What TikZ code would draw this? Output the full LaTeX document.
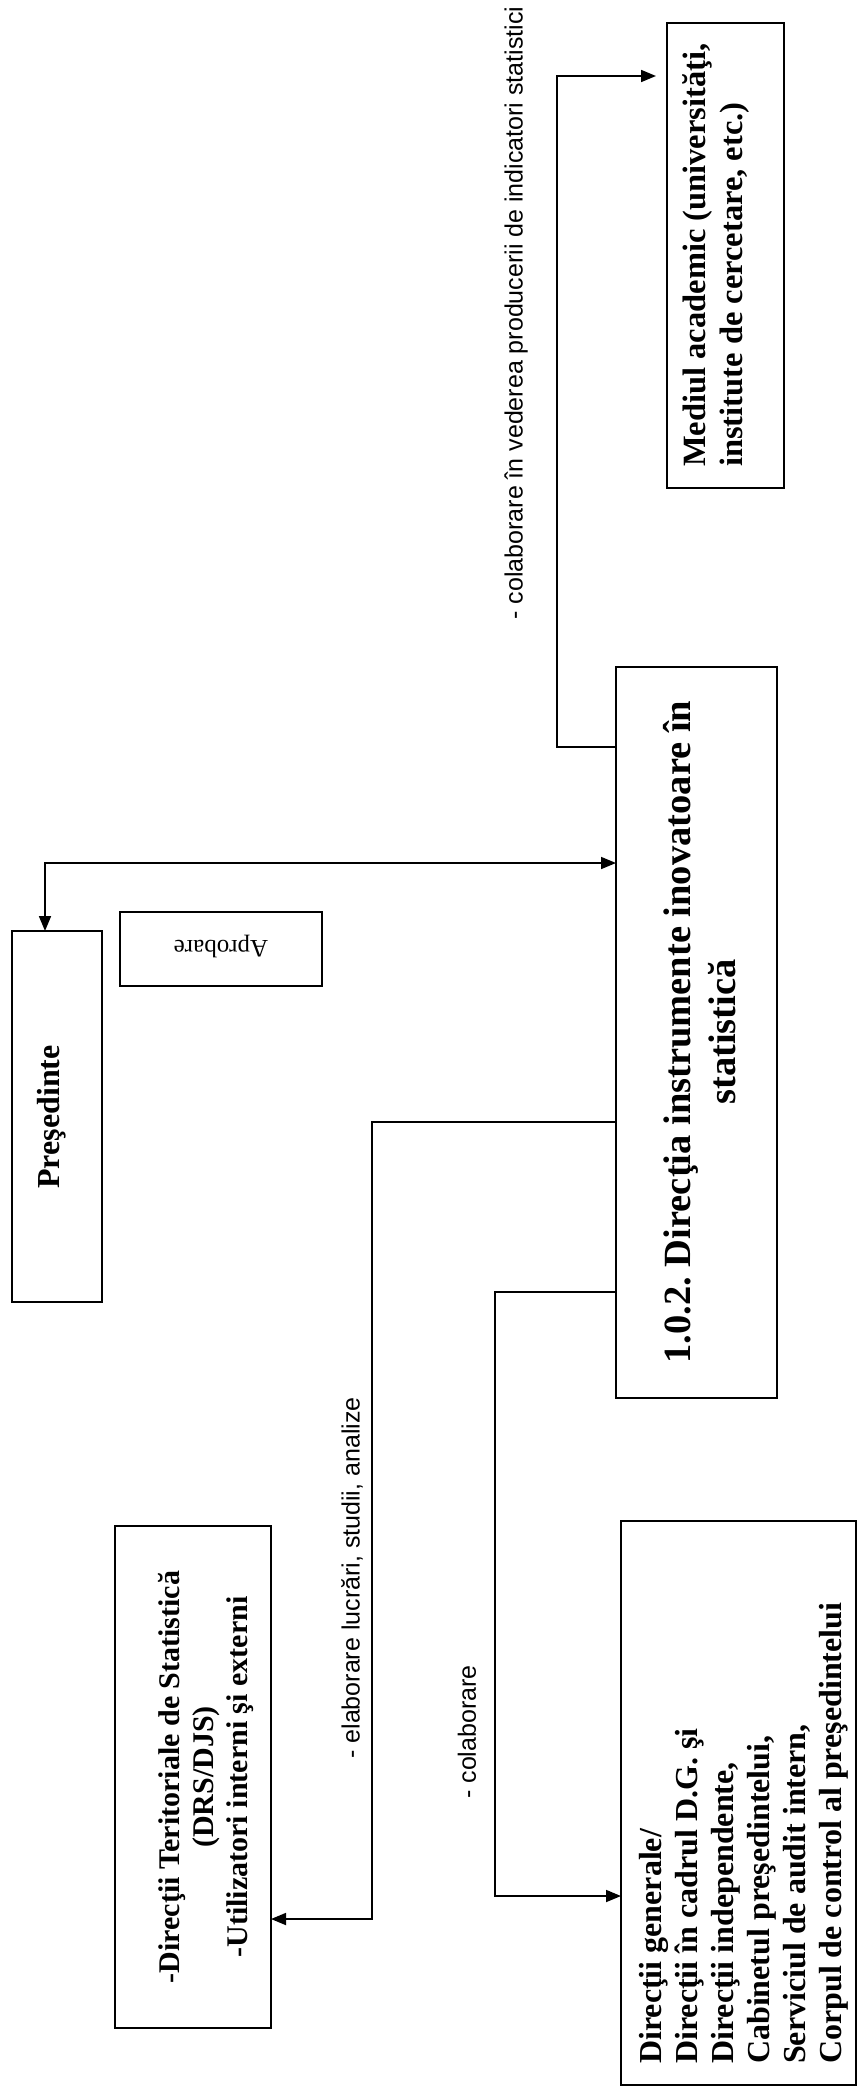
\documentclass[tikz,border=0pt]{standalone}
\usepackage{fontspec}
\setmainfont{Liberation Serif}
\newfontfamily\lsans{Liberation Sans}
\usetikzlibrary{arrows.meta}
\frenchspacing
\begin{document}
\begin{tikzpicture}[x=1pt,y=-1pt,
  box/.style={draw, line width=2pt, inner sep=0pt, outer sep=0pt, anchor=north west},
  conn/.style={line width=1.7pt},
  arr/.style={conn, -{Triangle[length=15pt,width=12pt]}},
  both/.style={conn, {Triangle[length=15pt,width=12pt]}-{Triangle[length=15pt,width=12pt]}},
  rtext/.style={rotate=90, inner sep=0pt},
  lbl/.style={rotate=90, inner sep=0pt, font=\lsans\fontsize{25}{30}\selectfont},
]
\fill[white] (0,0) rectangle (857,2087);
\useasboundingbox (0,0) rectangle (857,2087);

% boxes
\node[box, minimum width=117pt, minimum height=465pt] (mediul) at (667,23) {};
\node[box, minimum width=161pt, minimum height=731pt] (dir) at (616,667) {};
\node[box, minimum width=90pt, minimum height=371pt] (pres) at (12,931) {};
\node[box, minimum width=202pt, minimum height=74pt] (aprob) at (120,912) {};
\node[box, minimum width=156pt, minimum height=502pt] (drs) at (115,1526) {};
\node[box, minimum width=235pt, minimum height=564pt] (dg) at (621,1521) {};

% box texts
\node[rtext, anchor=west, align=left, font=\bfseries\fontsize{32.5}{37}\selectfont] (mediulT) at (716,467)
  {Mediul academic (universităţi,\\institute de cercetare, etc.)};
\node[rtext, align=center, font=\bfseries\fontsize{38.5}{45}\selectfont] (dirT) at (700,1032)
  {1.0.2. Direcţia instrumente inovatoare în\\statistică};
\node[rtext, font=\bfseries\fontsize{32}{38}\selectfont] (presT) at (52,1117) {Preşedinte};
\node[inner sep=0pt, rotate=180, font=\fontsize{25}{30}\selectfont] (aprobT) at (221,947) {Aprobare};
\node[rtext, align=center, font=\bfseries\fontsize{30}{34}\selectfont] (drsT) at (206,1777)
  {-Direcţii Teritoriale de Statistică\\(DRS/DJS)\\-Utilizatori interni şi externi};
\node[rtext, anchor=west, align=left, font=\bfseries\fontsize{32}{36}\selectfont] (dgT) at (744,2064)
  {Direcţii generale/\\Direcţii în cadrul D.G. şi\\Direcţii independente,\\Cabinetul preşedintelui,\\Serviciul de audit intern,\\Corpul de control al preşedintelui};

% connector labels
\node[lbl] (l1) at (516,313) {- colaborare în vederea producerii de indicatori statistici};
\node[lbl] (l2) at (352,1578) {- elaborare lucrări, studii, analize};
\node[lbl] (l3) at (467,1732) {- colaborare};

% connectors
\draw[both] ([xshift=33pt]pres.north west) |- (dir.west |- 0,863);
\draw[arr, shorten >=11pt] (dir.west |- 0,747) -| (557,76) -- (mediul.west |- 0,76);
\draw[arr] (dir.west |- 0,1122) -| (372,1919) -- (drs.east |- 0,1919);
\draw[arr] (dir.west |- 0,1292) -| (495,1896) -- (dg.west |- 0,1896);
\end{tikzpicture}
\end{document}
